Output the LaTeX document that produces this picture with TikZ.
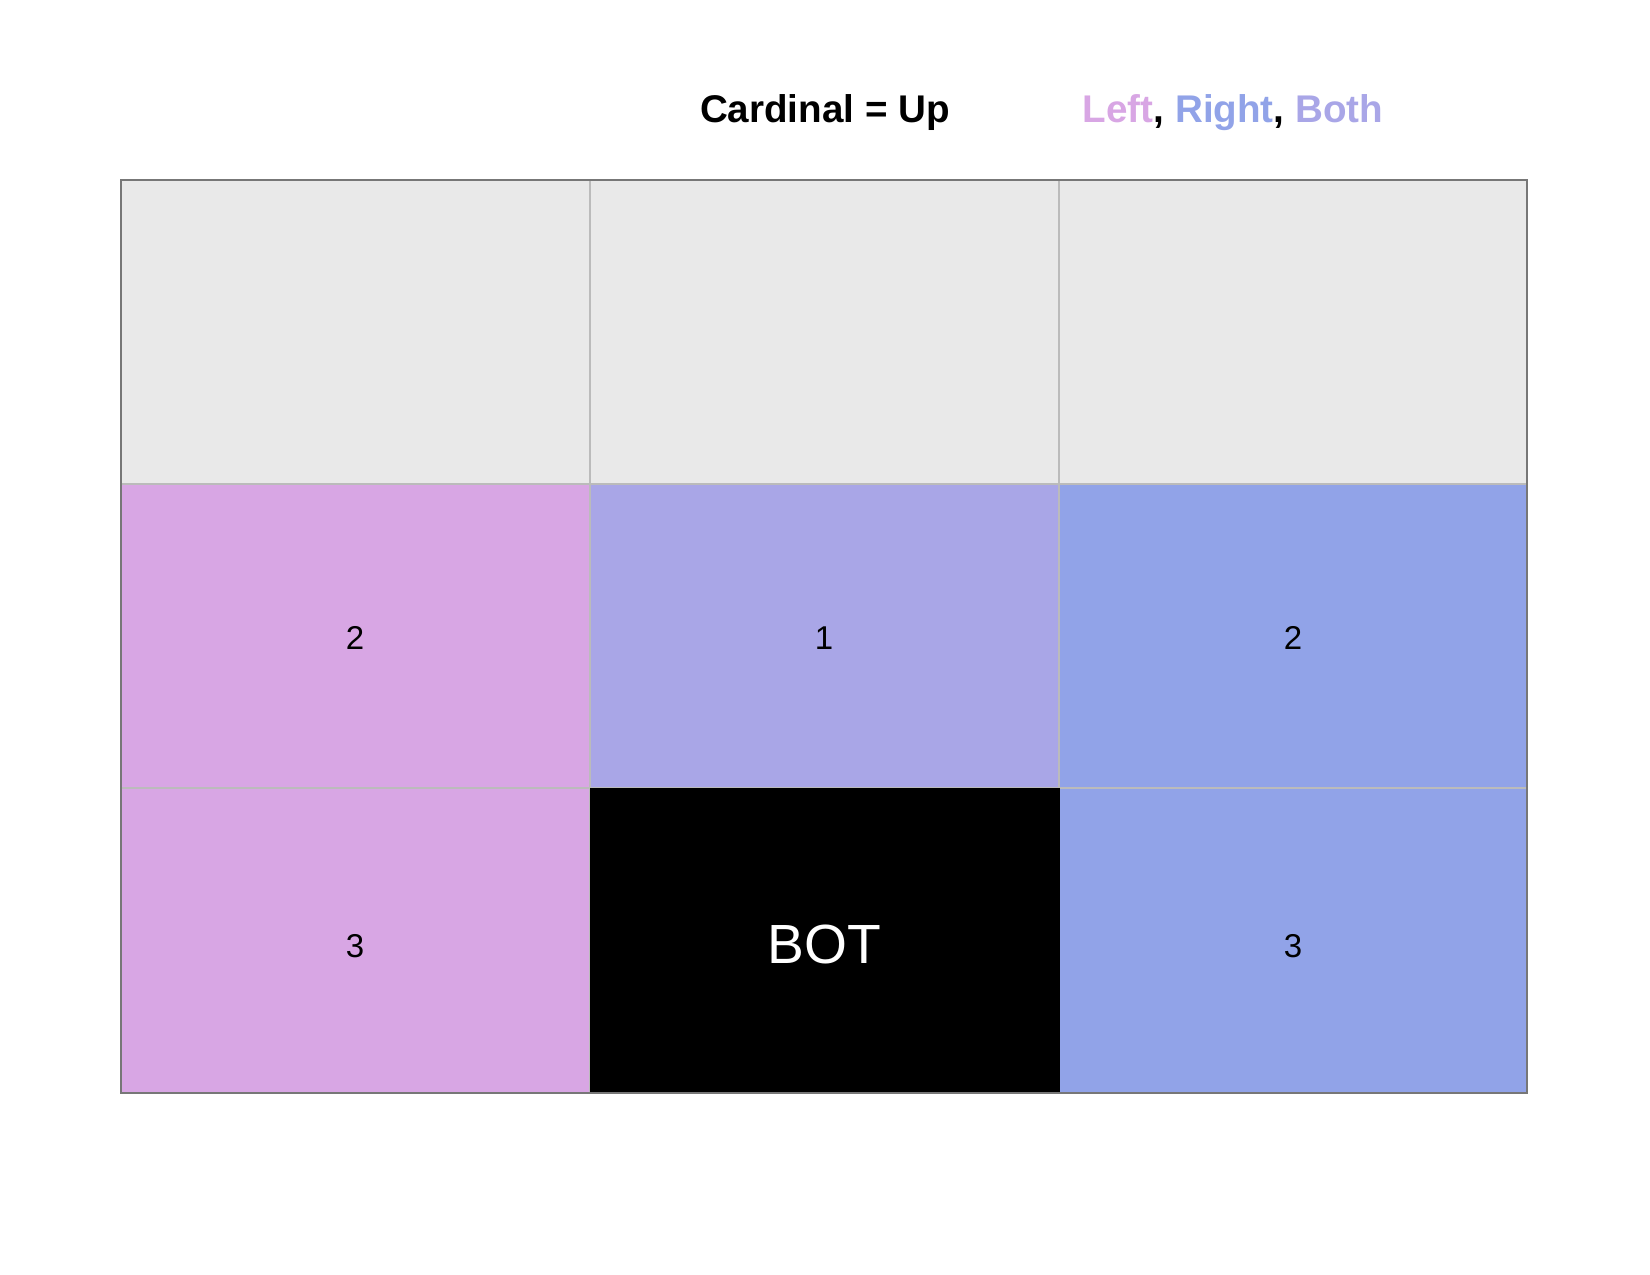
\documentclass[tikz,border=0pt]{standalone}
\usepackage{fontspec}
\setmainfont{Liberation Sans}
\definecolor{cgray}{HTML}{E9E9E9}
\definecolor{cpink}{HTML}{D8A6E4}
\definecolor{clav}{HTML}{A9A6E7}
\definecolor{cblue}{HTML}{91A3E8}
\definecolor{gline}{HTML}{BBBBBB}
\definecolor{gouter}{HTML}{777777}
\begin{document}
\begin{tikzpicture}[x=0.5pt,y=-0.5pt,
  cell/.style={draw=gline, line width=0.8pt},
  num/.style={font=\fontsize{16.5}{18}\selectfont, text=black},
  title/.style={font=\fontsize{19.3}{22}\selectfont\bfseries}]
\useasboundingbox (0,0) rectangle (1650,1275);
% row 1
\filldraw[cell, fill=cgray] (121,180) rectangle (590,484);
\filldraw[cell, fill=cgray] (590,180) rectangle (1059,484);
\filldraw[cell, fill=cgray] (1059,180) rectangle (1527,484);
% row 2
\filldraw[cell, fill=cpink] (121,484) rectangle (590,788);
\filldraw[cell, fill=clav] (590,484) rectangle (1059,788);
\filldraw[cell, fill=cblue] (1059,484) rectangle (1527,788);
% row 3
\filldraw[cell, fill=cpink] (121,788) rectangle (590,1093);
\filldraw[cell, fill=cblue] (1059,788) rectangle (1527,1093);
\filldraw[draw=black, fill=black] (590,788) rectangle (1059,1093);
% outer border
\draw[gouter, line width=1pt] (121,180) rectangle (1527,1093);
% labels
\node[num] (l21) at (355,638) {2};
\node[num] (l22) at (824,638) {1};
\node[num] (l23) at (1293,638) {2};
\node[num] (l31) at (355,946) {3};
\node[text=white, font=\fontsize{27.6}{32}\selectfont] (bot) at (824,944) {BOT};
\node[num] (l33) at (1293,946) {3};
% title
\node[title] (t1) at (825,113) {Cardinal = Up};
\node[title] (t2) at (1233,113) {\textcolor{cpink}{Left}, \textcolor{cblue}{Right}, \textcolor{clav}{Both}};
\end{tikzpicture}
\end{document}
